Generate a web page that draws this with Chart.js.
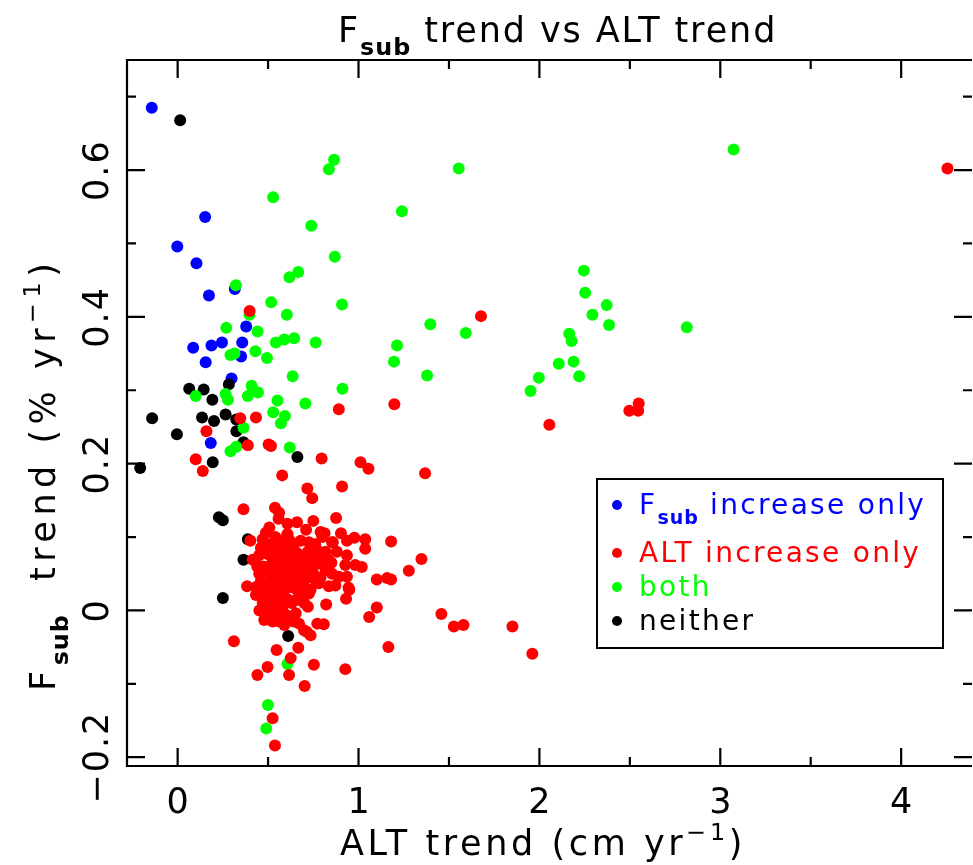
<!DOCTYPE html>
<html>
<head>
<meta charset="utf-8">
<title>Fsub trend vs ALT trend</title>
<script src="https://cdn.jsdelivr.net/npm/chart.js@4/dist/chart.umd.min.js"></script>
<style>
	html, body { margin: 0; padding: 0; background: #fff; }
	#chart { display: block; }
</style>
</head>
<body>
<canvas id="chart" width="973" height="865"></canvas>
<script>
const fsubOnly = [
	[-0.143, 0.685], [0.152, 0.536], [-0.002, 0.496], [0.104, 0.473], [0.173, 0.429], [0.316, 0.438],
	[0.379, 0.387], [0.086, 0.358], [0.187, 0.361], [0.245, 0.365], [0.357, 0.365], [0.351, 0.346],
	[0.155, 0.338], [0.298, 0.316], [0.183, 0.228]
];
const altOnly = [
	[4.256, 0.602], [0.398, 0.408], [1.677, 0.401], [0.891, 0.274], [1.198, 0.281], [2.549, 0.282],
	[2.546, 0.272], [2.497, 0.272], [2.055, 0.253], [0.346, 0.262], [0.433, 0.263], [0.159, 0.244],
	[0.388, 0.225], [0.503, 0.226], [0.516, 0.224], [0.796, 0.207], [1.011, 0.202], [1.055, 0.193],
	[1.368, 0.187], [0.100, 0.206], [0.139, 0.190], [0.578, 0.184], [0.717, 0.166], [0.744, 0.153],
	[0.909, 0.169], [0.364, 0.138], [0.538, 0.140], [0.561, 0.133], [0.750, 0.122], [0.876, 0.126],
	[0.607, 0.118], [0.507, 0.113], [0.488, 0.106], [0.607, 0.103], [0.812, 0.105], [0.903, 0.105],
	[0.470, 0.097], [0.936, 0.095], [0.977, 0.099], [1.037, 0.097], [1.180, 0.094], [1.037, 0.084],
	[1.348, 0.070], [1.278, 0.054], [1.101, 0.042], [1.158, 0.044], [1.180, 0.042], [0.402, 0.095],
	[0.384, 0.033], [0.415, 0.069], [1.458, -0.005], [1.527, -0.022], [1.580, -0.020], [1.851, -0.022],
	[1.961, -0.059], [1.165, -0.050], [1.101, 0.004], [1.059, -0.009], [0.821, 0.008], [0.931, 0.016],
	[0.949, 0.028], [0.808, -0.019], [0.772, -0.018], [0.713, -0.029], [0.311, -0.042], [0.547, -0.054],
	[0.667, -0.051], [0.625, -0.065], [0.497, -0.077], [0.753, -0.074], [0.927, -0.080], [0.441, -0.088],
	[0.616, -0.088], [0.702, -0.103], [0.525, -0.147], [0.538, -0.184],
	[0.525, 0.087], [0.598, 0.086], [0.662, 0.078], [0.726, 0.093], [0.772, 0.082], [0.818, 0.080],
	[0.854, 0.093], [0.936, 0.075], [0.927, 0.062], [0.982, 0.062], [1.018, 0.059], [0.891, 0.046],
	[0.936, 0.046], [0.854, 0.050], [0.744, 0.059], [0.689, 0.069], [0.780, 0.064], [0.818, 0.055],
	[0.872, 0.034], [0.836, 0.033], [0.735, 0.028], [0.671, 0.023], [0.616, 0.032], [0.543, 0.050],
	[0.488, 0.059], [0.451, 0.050], [0.433, 0.032], [0.452, 0.021], [0.525, 0.032], [0.579, 0.059],
	[0.598, 0.046], [0.653, 0.050], [0.689, 0.041], [0.763, 0.041], [0.543, 0.069], [0.488, 0.078],
	[0.560, 0.070], [0.433, 0.021], [0.452, 0.000], [0.479, -0.013], [0.525, -0.015], [0.561, -0.015],
	[0.598, -0.006], [0.653, -0.004], [0.671, -0.018], [0.699, -0.027], [0.735, -0.034], [0.653, 0.014],
	[0.726, 0.023], [0.781, 0.037], [0.488, 0.014], [0.543, 0.010], [0.598, 0.012], [0.516, 0.041],
	[0.571, 0.028], [0.470, 0.025], [0.634, 0.037], [0.708, 0.048], [0.558, 0.125], [0.607, 0.104],
	[0.594, 0.087], [0.790, 0.107], [0.653, 0.078], [0.525, 0.066], [0.858, 0.093], [0.818, 0.062],
	[0.945, 0.031], [0.46, 0.04], [0.50, 0.03], [0.52, 0.06], [0.55, 0.02], [0.57, 0.05],
	[0.60, 0.03], [0.62, 0.06], [0.63, 0.01], [0.50, 0.005], [0.54, -0.005], [0.58, 0.005],
	[0.47, 0.06], [0.53, 0.085], [0.56, 0.095], [0.66, 0.045], [0.69, 0.06], [0.70, 0.01],
	[0.64, 0.085], [0.45, 0.075], [0.51, 0.075], [0.59, 0.075], [0.61, 0.015], [0.55, 0.045],
	[0.48, 0.02], [0.68, 0.03], [0.74, 0.07], [0.79, 0.045], [0.83, 0.07], [0.76, 0.09],
	[0.80, 0.10], [0.68, 0.095], [0.71, 0.11], [0.66, 0.12],
	[0.47, 0.010], [0.49, 0.035], [0.51, 0.050], [0.53, 0.020], [0.56, 0.035], [0.58, 0.020],
	[0.52, -0.005], [0.57, -0.002], [0.61, 0.045], [0.63, 0.070], [0.57, 0.080], [0.50, 0.090],
	[0.54, 0.100], [0.62, 0.095], [0.65, 0.030], [0.67, 0.060], [0.60, 0.060], [0.55, 0.062],
	[0.46, 0.085], [0.44, 0.060], [0.72, 0.080], [0.75, 0.050], [0.78, 0.075], [0.85, 0.065],
	[0.88, 0.080], [0.70, 0.040], [0.64, -0.015], [0.59, -0.020], [0.49, -0.002], [0.72, 0.005]
];
const both = [
	[0.865, 0.614], [0.836, 0.601], [0.528, 0.563], [1.240, 0.544], [0.739, 0.524], [0.869, 0.482],
	[0.667, 0.461], [0.618, 0.454], [0.322, 0.443], [0.517, 0.420], [0.909, 0.417], [0.397, 0.403],
	[0.604, 0.403], [1.397, 0.390], [0.269, 0.385], [0.442, 0.380], [1.554, 0.602], [2.246, 0.463],
	[2.253, 0.433], [2.372, 0.416], [2.293, 0.403], [2.385, 0.389], [1.593, 0.378], [2.815, 0.386],
	[2.165, 0.377], [2.178, 0.367], [3.074, 0.628], [1.213, 0.361], [1.196, 0.339], [1.379, 0.320],
	[2.107, 0.336], [2.189, 0.339], [2.220, 0.319], [1.997, 0.317], [1.951, 0.299], [0.543, 0.365],
	[0.589, 0.369], [0.644, 0.371], [0.763, 0.365], [0.430, 0.353], [0.292, 0.348], [0.314, 0.350],
	[0.494, 0.344], [0.636, 0.319], [0.911, 0.302], [0.100, 0.292], [0.265, 0.295], [0.278, 0.287],
	[0.409, 0.306], [0.444, 0.297], [0.388, 0.292], [0.552, 0.286], [0.706, 0.282], [0.528, 0.270],
	[0.593, 0.265], [0.571, 0.255], [0.364, 0.249], [0.292, 0.217], [0.324, 0.223], [0.620, 0.222],
	[0.607, -0.073], [0.499, -0.129], [0.490, -0.161]
];
const neither = [
	[0.014, 0.668], [0.283, 0.308], [0.064, 0.302], [0.144, 0.301], [0.192, 0.287], [-0.141, 0.262],
	[0.135, 0.263], [0.201, 0.258], [0.265, 0.267], [0.324, 0.260], [0.325, 0.244], [-0.004, 0.240],
	[0.364, 0.229], [0.662, 0.209], [-0.207, 0.194], [0.194, 0.202], [0.228, 0.127], [0.250, 0.123],
	[0.388, 0.097], [0.364, 0.069], [0.250, 0.017], [0.611, -0.035]
];
const seriesNames = ['Fsub increase only', 'ALT increase only', 'both', 'neither'];
const seriesColors = ['#0000ff', '#ff0000', '#00ff00', '#000000'];
const xRange = [-0.28, 4.364];
const yRange = [-0.212, 0.75];
const xMajorTicks = [0, 1, 2, 3, 4];
const xMinorTicks = [0.5, 1.5, 2.5, 3.5];
const xTickLabels = ['0', '1', '2', '3', '4'];
const yMajorTicks = [-0.2, 0, 0.2, 0.4, 0.6];
const yMinorTicks = [-0.1, 0.1, 0.3, 0.5, 0.7];
const yTickLabels = ['\u22120.2', '0', '0.2', '0.4', '0.6'];

const FONT = '"DejaVu Sans", sans-serif';
const toPoints = list => list.map(p => ({ x: p[0], y: p[1] }));

// text made of runs; shift: 0 normal, -1 subscript, 1 superscript
const drawRich = (ctx, runs, x, y, size, spacing) => {
	let pos = x;
	for (const run of runs) {
		const s = run.shift ? size * 0.68 : size;
		ctx.font = (run.bold ? 'bold ' : '') + s + 'px ' + FONT;
		ctx.letterSpacing = (run.gap !== undefined ? run.gap : spacing) + 'px';
		const dy = run.shift === -1 ? size * 0.36 : run.shift === 1 ? -size * 0.42 : 0;
		ctx.fillText(run.text, pos, y + dy);
		pos += ctx.measureText(run.text).width;
	}
	return pos - x;
};

const frame = {
	id: 'frame',
	afterDatasetsDraw: chart => {
		const ctx = chart.ctx;
		const area = chart.chartArea;
		const xs = chart.scales.x;
		const ys = chart.scales.y;
		const rightEdge = area.right + 5;
		ctx.save();
		ctx.strokeStyle = '#000';
		ctx.lineWidth = 2.2;
		ctx.beginPath();
		ctx.moveTo(rightEdge, area.top);
		ctx.lineTo(area.left, area.top);
		ctx.lineTo(area.left, area.bottom);
		ctx.lineTo(rightEdge, area.bottom);
		const tick = (value, len, horizontal) => {
			if (horizontal) {
				const px = xs.getPixelForValue(value);
				ctx.moveTo(px, area.bottom);
				ctx.lineTo(px, area.bottom - len);
				ctx.moveTo(px, area.top);
				ctx.lineTo(px, area.top + len);
			} else {
				const py = ys.getPixelForValue(value);
				ctx.moveTo(area.left, py);
				ctx.lineTo(area.left + len, py);
				ctx.moveTo(rightEdge, py);
				ctx.lineTo(rightEdge - len, py);
			}
		};
		xMajorTicks.forEach(v => tick(v, 18, true));
		xMinorTicks.forEach(v => tick(v, 9, true));
		yMajorTicks.forEach(v => tick(v, 18, false));
		yMinorTicks.forEach(v => tick(v, 9, false));
		ctx.stroke();

		ctx.fillStyle = '#000';
		ctx.textBaseline = 'alphabetic';
		ctx.textAlign = 'center';
		ctx.font = '35px ' + FONT;
		ctx.letterSpacing = '2px';
		xMajorTicks.forEach((v, i) => {
			ctx.fillText(xTickLabels[i], xs.getPixelForValue(v) + 1, 813);
		});
		yMajorTicks.forEach((v, i) => {
			ctx.save();
			ctx.translate(108, ys.getPixelForValue(v));
			ctx.rotate(-Math.PI / 2);
			ctx.fillText(yTickLabels[i], 0, 0);
			ctx.restore();
		});
		ctx.textAlign = 'left';

		const title = [
			{ text: 'F' }, { text: 'sub', shift: -1, bold: true, gap: 1 }, { text: ' trend vs ALT trend' }
		];
		drawRich(ctx, title, 338, 42, 35, 1.9);

		const xTitle = [
			{ text: 'ALT trend (cm yr' }, { text: '\u22121', shift: 1 }, { text: ')' }
		];
		drawRich(ctx, xTitle, 340, 855, 35, 3.6);

		const yTitle = [
			{ text: 'F' }, { text: 'sub', shift: -1, bold: true, gap: 1 }, { text: '  trend (% yr' }, { text: '\u22121', shift: 1 }, { text: ')' }
		];
		ctx.save();
		ctx.translate(55, 691);
		ctx.rotate(-Math.PI / 2);
		drawRich(ctx, yTitle, 0, 0, 35, 5.5);
		ctx.restore();

		// legend box
		ctx.lineWidth = 2;
		ctx.strokeRect(597, 479, 346, 169);
		const rows = [
			{ y: 514, runs: [{ text: 'F' }, { text: 'sub', shift: -1, bold: true, gap: 1 }, { text: ' increase only' }] },
			{ y: 562, runs: [{ text: seriesNames[1] }] },
			{ y: 596, runs: [{ text: seriesNames[2] }] },
			{ y: 630, runs: [{ text: seriesNames[3] }] }
		];
		rows.forEach((row, i) => {
			ctx.fillStyle = seriesColors[i];
			ctx.beginPath();
			ctx.arc(617, row.y - 9, 5, 0, Math.PI * 2);
			ctx.fill();
			drawRich(ctx, row.runs, 639, row.y, 28, 2.3);
		});
		ctx.restore();
	}
};

new Chart(document.getElementById('chart'), {
	type: 'scatter',
	data: {
		datasets: [fsubOnly, altOnly, both, neither].map((list, i) => ({
			label: seriesNames[i],
			data: toPoints(list),
			backgroundColor: seriesColors[i],
			borderWidth: 0,
			pointRadius: 6,
			order: [3, 0, 1, 2][i]
		}))
	},
	options: {
		responsive: false,
		animation: false,
		events: [],
		layout: {
			padding: { left: 127, top: 60, right: 0, bottom: 99 }
		},
		plugins: {
			legend: { display: false },
			title: { display: false },
			tooltip: { enabled: false }
		},
		scales: {
			x: { type: 'linear', display: false, min: xRange[0], max: xRange[1] },
			y: { type: 'linear', display: false, min: yRange[0], max: yRange[1] }
		}
	},
	plugins: [frame]
});
</script>
</body>
</html>
